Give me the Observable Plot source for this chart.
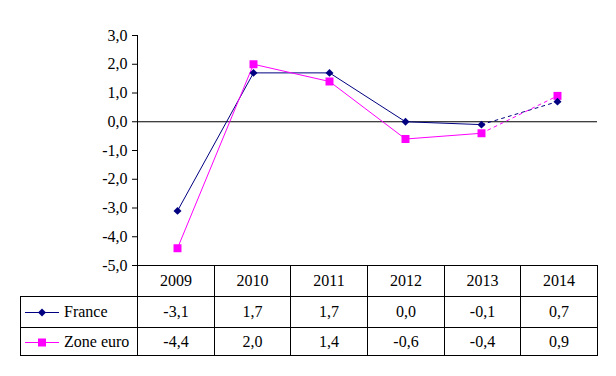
<!DOCTYPE html>
<html><head><meta charset="utf-8">
<script src="https://cdn.jsdelivr.net/npm/d3@7"></script>
<script src="https://cdn.jsdelivr.net/npm/@observablehq/plot@0.6"></script>
<style>
body{margin:0;background:#fff;font-family:'Liberation Serif',serif;}
#wrap{position:relative;width:616px;height:376px;font-family:'Liberation Serif',serif;color:#000;background:#fff;}
#wrap svg, #wrap svg text{font-family:'Liberation Serif',serif !important;}
.cell{position:absolute;box-sizing:border-box;display:flex;align-items:center;justify-content:center;font-size:16px;font-family:'Liberation Serif',serif;color:#000;border-color:#000;border-style:solid;border-width:0;}
.leg{justify-content:flex-start;}
</style></head><body><div id="wrap"></div>
<script>
const years = ["2009","2010","2011","2012","2013","2014"];
const france = [-3.1, 1.7, 1.7, 0.0, -0.1, 0.7];
const zoneEuro = [-4.4, 2.0, 1.4, -0.6, -0.4, 0.9];
const seriesNames = ["France", "Zone euro"];
const seriesColors = ["#000080", "#FF00FF"];
const yTicks = [3, 2, 1, 0, -1, -2, -3, -4, -5];

const fmt = d => (Math.abs(d) < 1e-9 ? 0 : d).toFixed(1).replace(".", ",");
const FONT = "Liberation Serif, serif";

const rows = [];
years.forEach((yr, i) => {
  rows.push({year: yr, i, series: seriesNames[0], value: france[i]});
  rows.push({year: yr, i, series: seriesNames[1], value: zoneEuro[i]});
});
const lastSolid = years.length - 2;
const solid = rows.filter(d => d.i <= lastSolid);
const dashed = rows.filter(d => d.i >= lastSolid);

const chart = Plot.plot({
  width: 616, height: 266,
  marginLeft: 137, marginRight: 19, marginTop: 35, marginBottom: 1,
  style: {fontFamily: FONT, fontSize: "16px", background: "white", overflow: "visible", color: "black"},
  x: {type: "band", domain: years, padding: 0, axis: null},
  y: {domain: [-5, 3]},
  color: {domain: seriesNames, range: seriesColors},
  marks: [
    Plot.axisY(yTicks, {tickSize: 5, tickPadding: 5, tickFormat: fmt, label: null, fontSize: 16, fontFamily: FONT, stroke: "black", fill: "black"}),
    Plot.frame({anchor: "left", stroke: "black"}),
    Plot.ruleY([0], {stroke: "black"}),
    Plot.ruleY([-5], {stroke: "black"}),
    Plot.line(solid, {x: "year", y: "value", z: "series", stroke: "series", strokeWidth: 1}),
    Plot.line(dashed, {x: "year", y: "value", z: "series", stroke: "series", strokeWidth: 1, strokeDasharray: "3,4"}),
    Plot.dot(rows.filter(d => d.series === seriesNames[1]), {x: "year", y: "value", symbol: "square", r: 4.5, fill: seriesColors[1], stroke: "none"}),
    Plot.dot(rows.filter(d => d.series === seriesNames[0]), {x: "year", y: "value", symbol: "diamond2", r: 3.6, fill: seriesColors[0], stroke: "none"})
  ]
});
const wrap = document.getElementById("wrap");
wrap.appendChild(chart);

const xs = chart.scale("x");
const band = d3.scaleBand().domain(xs.domain).range(xs.range).padding(0);
const left0 = 20, axisX = band.range()[0];
const rowTops = [265, 296, 327, 355];
function cell(x, y, w, h, html, cls, borders) {
  const d = document.createElement("div");
  d.className = "cell" + (cls ? " " + cls : "");
  d.style.left = x + "px"; d.style.top = y + "px";
  d.style.width = w + "px"; d.style.height = h + "px";
  d.style.borderWidth = borders;
  d.innerHTML = html;
  wrap.appendChild(d);
}
years.forEach((yr, i) => {
  const x = Math.round(band(yr));
  const w = Math.round(band(yr) + band.bandwidth()) - x + (i === years.length - 1 ? 1 : 0);
  cell(x, rowTops[0], w, rowTops[1] - rowTops[0], yr, "", `1px ${i === years.length - 1 ? 1 : 0}px 0 1px`);
});
const series = [france, zoneEuro];
const symbols = [
  c => `<path d="M0,-4L4,0L0,4L-4,0Z" fill="${c}"/>`,
  c => `<rect x="-4" y="-4" width="8" height="8" fill="${c}"/>`
];
series.forEach((vals, s) => {
  const top = rowTops[s + 1], h = rowTops[s + 2] - top + (s === series.length - 1 ? 1 : 0);
  const bb = s === series.length - 1 ? 1 : 0;
  const sw = `<svg width="34" height="10" style="margin-left:4px;margin-right:5px;overflow:visible"><line x1="0" x2="34" y1="5.5" y2="5.5" stroke="${seriesColors[s]}" stroke-width="1"/><g transform="translate(17,5.5)">${symbols[s](seriesColors[s])}</g></svg>`;
  cell(left0, top, axisX - left0, h, sw + seriesNames[s], "leg", `1px 0 ${bb}px 1px`);
  years.forEach((yr, i) => {
    const x = Math.round(band(yr));
    const w = Math.round(band(yr) + band.bandwidth()) - x + (i === years.length - 1 ? 1 : 0);
    cell(x, top, w, h, fmt(vals[i]), "", `1px ${i === years.length - 1 ? 1 : 0}px ${bb}px 1px`);
  });
});
</script></body></html>
